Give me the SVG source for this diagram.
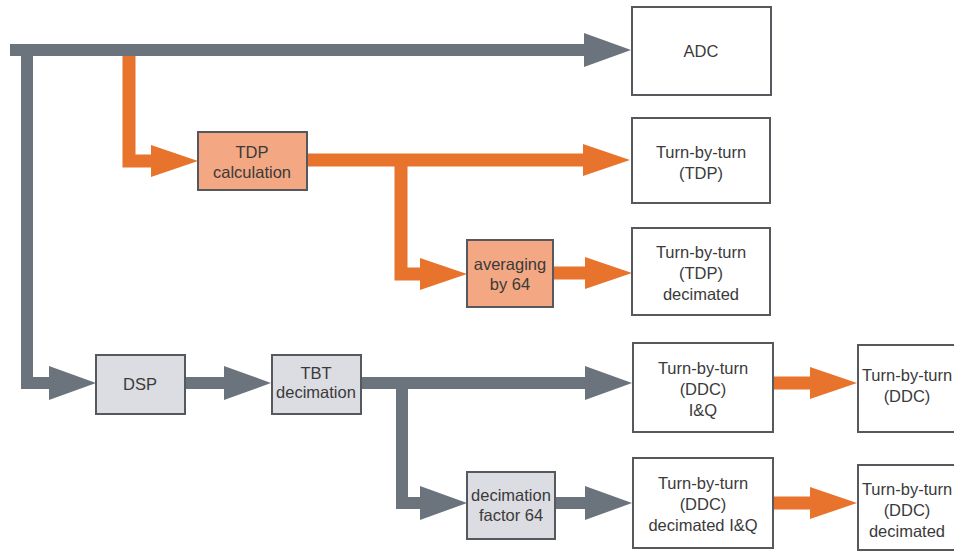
<svg xmlns="http://www.w3.org/2000/svg" width="954" height="551" viewBox="0 0 954 551">
  <defs>
    <marker id="headGray" markerUnits="userSpaceOnUse" markerWidth="48" markerHeight="34" refX="1" refY="17" orient="auto">
      <path d="M0,0 L47,17 L0,34 Z" fill="#6b737c"/>
    </marker>
    <marker id="headOrange" markerUnits="userSpaceOnUse" markerWidth="48" markerHeight="32" refX="1" refY="16" orient="auto">
      <path d="M0,0 L47,16 L0,32 Z" fill="#e8732c"/>
    </marker>
  </defs>
  <style>
    .gray { fill: none; stroke: #6b737c; stroke-width: 12; stroke-linejoin: miter; marker-end: url(#headGray); }
    .orange { fill: none; stroke: #e8732c; stroke-width: 13; stroke-linejoin: miter; marker-end: url(#headOrange); }
    .out { fill: #ffffff; stroke: #55595e; stroke-width: 2; }
    .proc { fill: #dcdde2; stroke: #55595e; stroke-width: 2; }
    .calc { fill: #f3a883; stroke: #55595e; stroke-width: 2; }
    text { font-family: "Liberation Sans", Arial, sans-serif; font-size: 16.5px; fill: #3a3a3a; text-anchor: middle; }
  </style>
  <rect width="954" height="551" fill="#ffffff"/>

  <g id="connectors">
    <!-- main input bus to ADC -->
    <path class="gray" d="M10,50 H585"/>
    <!-- bus down to DSP -->
    <path class="gray" d="M27,50 V383 H50"/>
    <!-- tap to TDP calculation -->
    <path class="orange" d="M129,56 V161 H152"/>
    <!-- TDP calculation to turn-by-turn (TDP) -->
    <path class="orange" d="M307,160 H584"/>
    <!-- TDP branch to averaging -->
    <path class="orange" d="M401,160 V274 H421"/>
    <!-- averaging to TDP decimated -->
    <path class="orange" d="M553,273 H586"/>
    <!-- DSP to TBT decimation -->
    <path class="gray" d="M185,383 H225"/>
    <!-- TBT decimation to DDC I&Q -->
    <path class="gray" d="M361,383 H586"/>
    <!-- TBT branch to decimation factor 64 -->
    <path class="gray" d="M402,383 V503 H421"/>
    <!-- decimation factor 64 to DDC decimated I&Q -->
    <path class="gray" d="M555,503 H586"/>
    <!-- DDC outputs -->
    <path class="orange" d="M773,383 H811"/>
    <path class="orange" d="M773,503 H811"/>
  </g>

  <g id="adc">
    <rect class="out" x="632" y="7" width="139" height="88"/>
    <text x="701" y="57">ADC</text>
  </g>

  <g id="tdp-calculation">
    <rect class="calc" x="198" y="132" width="109" height="58"/>
    <text x="252" y="158">TDP</text>
    <text x="252" y="178">calculation</text>
  </g>

  <g id="tbt-tdp">
    <rect class="out" x="632" y="118" width="138" height="85"/>
    <text x="701" y="158">Turn-by-turn</text>
    <text x="701" y="179">(TDP)</text>
  </g>

  <g id="averaging">
    <rect class="calc" x="467" y="240" width="86" height="67"/>
    <text x="510" y="270">averaging</text>
    <text x="510" y="290">by 64</text>
  </g>

  <g id="tbt-tdp-decimated">
    <rect class="out" x="632" y="228" width="138" height="87"/>
    <text x="701" y="258">Turn-by-turn</text>
    <text x="701" y="279">(TDP)</text>
    <text x="701" y="300">decimated</text>
  </g>

  <g id="dsp">
    <rect class="proc" x="96" y="355" width="89" height="59"/>
    <text x="140" y="390">DSP</text>
  </g>

  <g id="tbt-decimation">
    <rect class="proc" x="272" y="355" width="89" height="59"/>
    <text x="316" y="379">TBT</text>
    <text x="316" y="398">decimation</text>
  </g>

  <g id="decimation-factor">
    <rect class="proc" x="467" y="472" width="88" height="67"/>
    <text x="511" y="501">decimation</text>
    <text x="511" y="521">factor 64</text>
  </g>

  <g id="tbt-ddc-iq">
    <rect class="out" x="633" y="343" width="140" height="89"/>
    <text x="703" y="374">Turn-by-turn</text>
    <text x="703" y="395">(DDC)</text>
    <text x="703" y="416">I&amp;Q</text>
  </g>

  <g id="tbt-ddc-decimated-iq">
    <rect class="out" x="633" y="458" width="140" height="90"/>
    <text x="703" y="489">Turn-by-turn</text>
    <text x="703" y="510">(DDC)</text>
    <text x="703" y="531">decimated I&amp;Q</text>
  </g>

  <g id="tbt-ddc">
    <rect class="out" x="858" y="345" width="100" height="87"/>
    <text x="907" y="381">Turn-by-turn</text>
    <text x="907" y="402">(DDC)</text>
  </g>

  <g id="tbt-ddc-decimated">
    <rect class="out" x="858" y="465" width="100" height="85"/>
    <text x="907" y="495">Turn-by-turn</text>
    <text x="907" y="516">(DDC)</text>
    <text x="907" y="537">decimated</text>
  </g>
</svg>
